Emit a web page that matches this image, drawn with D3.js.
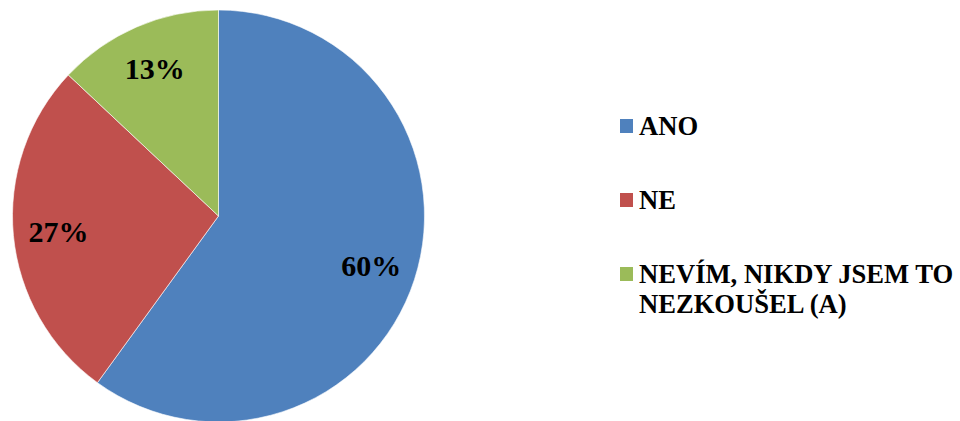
<!DOCTYPE html>
<html>
<head>
<meta charset="utf-8">
<script src="https://cdn.jsdelivr.net/npm/d3@7"></script>
<style>
  html, body { margin: 0; padding: 0; background: #fff; }
  svg { display: block; }
  .serif { font-family: "Times New Roman", "Liberation Serif", Times, "DejaVu Serif", serif; font-weight: bold; }
</style>
</head>
<body>
<svg id="chart" width="960" height="421"></svg>
<script>
// Survey answers and their shares (%)
const categories = ["ANO", "NE", "NEVÍM, NIKDY JSEM TO NEZKOUŠEL (A)"];
const values = [60, 27, 13];
const colors = ["#4F81BD", "#C0504D", "#9BBB59"];
// Legend text, split into drawn lines
const legendLines = [["ANO"], ["NE"], ["NEVÍM, NIKDY JSEM TO", "NEZKOUŠEL (A)"]];

const svg = d3.select("#chart");
const cx = 218.5, cy = 216, radius = 206;
const total = d3.sum(values);

const pie = d3.pie().sort(null).value(d => d)(values);
const arc = d3.arc().innerRadius(0).outerRadius(radius);
const labelArc = d3.arc().innerRadius(radius * 0.78).outerRadius(radius * 0.78);

const g = svg.append("g").attr("transform", `translate(${cx},${cy})`);

g.selectAll("path.slice")
  .data(pie)
  .join("path")
  .attr("class", "slice")
  .attr("d", arc)
  .attr("fill", (d, i) => colors[i])
  .attr("stroke", "#ffffff")
  .attr("stroke-width", 0.6);

g.selectAll("text.pct")
  .data(pie)
  .join("text")
  .attr("class", "pct serif")
  .attr("transform", d => `translate(${labelArc.centroid(d)})`)
  .attr("text-anchor", "middle")
  .attr("dy", "0.35em")
  .attr("font-size", 30)
  .attr("fill", "#000")
  .text(d => Math.round(d.data / total * 100) + "%");

// Legend
const legendX = 620, textX = 639;
const legendBaselines = [135, 209, 283];
const legend = svg.append("g");
categories.forEach((c, i) => {
  legend.append("rect")
    .attr("x", legendX)
    .attr("y", legendBaselines[i] - 16)
    .attr("width", 13)
    .attr("height", 14)
    .attr("fill", colors[i]);
  const t = legend.append("text")
    .attr("class", "serif")
    .attr("x", textX)
    .attr("y", legendBaselines[i])
    .attr("font-size", 26.6)
    .attr("fill", "#000");
  legendLines[i].forEach((line, j) => {
    t.append("tspan")
      .attr("x", textX)
      .attr("dy", j === 0 ? 0 : 30)
      .text(line);
  });
});
</script>
</body>
</html>
